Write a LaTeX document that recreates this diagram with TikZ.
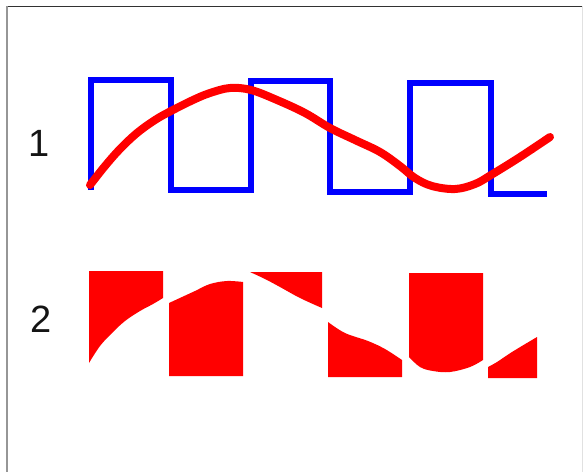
\documentclass[tikz,border=0pt]{standalone}
\usepackage{fontspec}
\setmainfont{Liberation Sans}
\begin{document}
\begin{tikzpicture}[x=1pt,y=-1pt,
  sqwave/.style={draw={rgb,255:red,0;green,0;blue,255}, line width=6pt, line join=miter},
  sine/.style={draw={rgb,255:red,255;green,0;blue,0}, line width=8pt, line cap=round, line join=round},
  area/.style={fill={rgb,255:red,255;green,0;blue,0}},
  lbl/.style={font=\fontsize{38}{38}\selectfont, text={rgb,255:red,20;green,20;blue,20}, inner sep=0pt}]
\useasboundingbox (0,0) rectangle (583,472);
\fill[white] (0,0) rectangle (583,472);
% frame
\draw[line width=1.5pt, color={rgb,255:red,50;green,50;blue,50}] (6,6.5) -- (583,6.5);
\draw[line width=2pt, color={rgb,255:red,150;green,150;blue,150}] (6.5,6) -- (6.5,472);
\draw[line width=1pt, color={rgb,255:red,225;green,225;blue,225}] (582,6) -- (582,472);
% labels
\node[lbl] (l1) at (39,143) {1};
\node[lbl] (l2) at (41,319) {2};
% panel 1: square wave
\draw[sqwave] (90.5,190) -- (90.5,79.5) -- (171,79.5) -- (171,190) -- (251,190) -- (251,81) -- (329.5,81) -- (329.5,192) -- (410,192) -- (410,82.5) -- (491,82.5) -- (491,194) -- (547,194);
% panel 1: hand-drawn curve
\draw[sine] plot[smooth, tension=0.6] coordinates {
  (90,185) (105,166) (120,149) (137,133) (155,120) (171,111) (193,100) (210,93) (230,88)
  (251,90) (277,100) (305,113) (330,128) (355,140) (380,152) (400,166) (415,178) (432,186)
  (455,189) (475,184) (491,175) (520,157) (550,137)};
% panel 2: filled regions between square wave and curve
\fill[area] (89,271) -- (163,271) -- (163,298)
  -- plot[smooth, tension=0.6] coordinates {(163,298) (153,304) (140,311) (125,321) (112,333) (100,346) (89,363)} -- cycle;
\fill[area] (169,376) -- (243,376) -- (243,282)
  -- plot[smooth, tension=0.6] coordinates {(243,282) (227,281) (210,284) (195,291) (182,297) (169,303)} -- cycle;
\fill[area] (250,272) -- (322,272) -- (322,308)
  -- plot[smooth, tension=0.6] coordinates {(322,308) (300,298) (280,287) (265,279) (250,272)} -- cycle;
\fill[area] (328,377) -- (402,377) -- (402,360)
  -- plot[smooth, tension=0.6] coordinates {(402,360) (385,349) (368,341) (345,333) (328,322)} -- cycle;
\fill[area] (409,273) -- (483,273) -- (483,360)
  -- plot[smooth, tension=0.6] coordinates {(483,360) (470,367) (450,372) (433,371) (420,367) (409,357)} -- cycle;
\fill[area] (488,378) -- (537,378) -- (537,337)
  -- plot[smooth, tension=0.6] coordinates {(537,337) (512,352) (497,362) (488,367)} -- cycle;
\end{tikzpicture}
\end{document}
